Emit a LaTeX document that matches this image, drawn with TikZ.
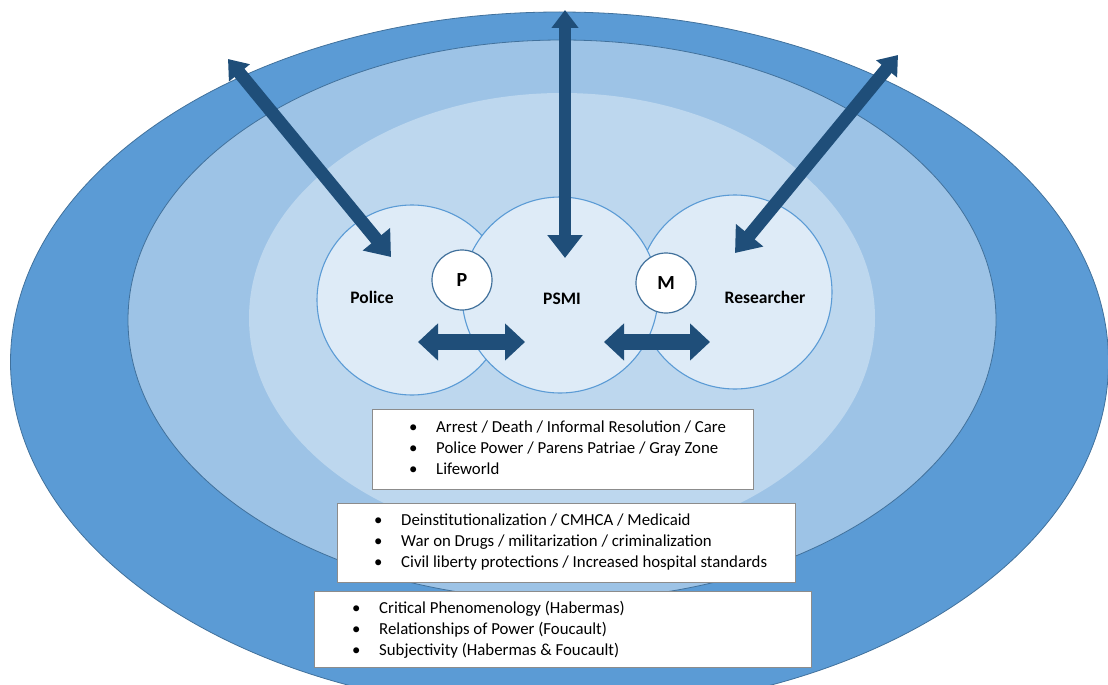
\documentclass[tikz,border=0pt]{standalone}
\usepackage{fontspec}
\setmainfont{Carlito}
\usetikzlibrary{arrows.meta,shapes.geometric}
\definecolor{ringA}{HTML}{5B9BD5}
\definecolor{ringB}{HTML}{9DC3E6}
\definecolor{ringC}{HTML}{BDD7EE}
\definecolor{innerfill}{HTML}{DEEBF7}
\definecolor{ringedge}{HTML}{41719C}
\definecolor{arrowc}{HTML}{1F4E79}
\definecolor{boxedge}{HTML}{8C8C8C}
\newcommand\bul{\makebox[28pt][l]{\hspace{1pt}\textbullet}}
\begin{document}
\begin{tikzpicture}[x=1pt,y=-1pt,
  ring/.style={ellipse, inner sep=0pt, outer sep=0pt},
  actor/.style={ellipse, inner sep=0pt, fill=innerfill, draw=ringA, line width=1.1pt},
  badge/.style={circle, inner sep=0pt, minimum size=60pt, fill=white, draw=ringedge, line width=1.2pt,
                font=\bfseries\fontsize{20}{22}\selectfont},
  actorlabel/.style={inner sep=0pt, font=\bfseries\fontsize{17.5}{20}\selectfont},
  textbox/.style={rectangle, inner sep=0pt, fill=white, draw=boxedge, line width=1pt, anchor=north west},
  listtext/.style={inner sep=0pt, anchor=west, align=left, font=\fontsize{16.8}{21}\selectfont},
  longarrow/.style={draw=arrowc, line width=13pt,
     {Triangle[width=34pt,length=23pt]}-{Triangle[width=26pt,length=18pt]}},
  sidearrow/.style={draw=arrowc, line width=16pt,
     {Triangle[width=36pt,length=20pt]}-{Triangle[width=36pt,length=20pt]}}
]
\useasboundingbox (0,0) rectangle (1108,685);
\clip (0,0) rectangle (1108,685);
% concentric rings
\node[ring, fill=ringA, draw=ringedge, line width=0.8pt, minimum width=1098pt, minimum height=700pt] (outer) at (559.5,362) {};
\node[ring, fill=ringB, draw=ringedge, line width=0.8pt, minimum width=868pt, minimum height=560pt] (middle) at (562,320) {};
\node[ring, fill=ringC, minimum width=626pt, minimum height=450pt] (innerring) at (562,318) {};
% actor circles
\node[actor, minimum width=190pt, minimum height=190pt] (police) at (412,300) {};
\node[actor, minimum width=194pt, minimum height=194pt] (researcher) at (735,292) {};
\node[actor, minimum width=196pt, minimum height=196pt] (psmi) at (560,295) {};
% long arrows
\coordinate (polin) at (391,257);
\coordinate (polout) at (228,59);
\coordinate (psmiin) at (565,258);
\coordinate (psmiout) at (565,10);
\coordinate (resin) at (735,253);
\coordinate (resout) at (898,55);
\draw[longarrow] (polin) -- (polout);
\draw[longarrow, line width=12pt] (psmiin) -- (psmiout);
\draw[longarrow] (resin) -- (resout);
% side arrows
\coordinate (la) at (418,342);
\coordinate (lb) at (525,342);
\coordinate (ra) at (604,342);
\coordinate (rb) at (710,342);
\draw[sidearrow] (la) -- (lb);
\draw[sidearrow] (ra) -- (rb);
% badges and labels
\node[badge] (pbadge) at (462,280) {P};
\node[badge] (mbadge) at (666,283) {M};
\node[actorlabel] (policelabel) at (372,297) {Police};
\node[actorlabel] (psmilabel) at (562,299) {PSMI};
\node[actorlabel] (researcherlabel) at (765,297) {Researcher};
% text boxes
\node[textbox, minimum width=381pt, minimum height=80pt] (box1) at (372,409) {};
\node[listtext] (list1) at (408,448) {\bul Arrest / Death / Informal Resolution / Care\\\bul Police Power / Parens Patriae / Gray Zone\\\bul Lifeworld};
\node[textbox, minimum width=458pt, minimum height=79pt] (box2) at (337,503) {};
\node[listtext] (list2) at (373,542) {\bul Deinstitutionalization / CMHCA / Medicaid\\\bul War on Drugs / militarization / criminalization\\\bul Civil liberty protections / Increased hospital standards};
\node[textbox, minimum width=497pt, minimum height=76pt] (box3) at (314,591) {};
\node[listtext] (list3) at (351,630) {\bul Critical Phenomenology (Habermas)\\\bul Relationships of Power (Foucault)\\\bul Subjectivity (Habermas \& Foucault)};
\end{tikzpicture}
\end{document}
